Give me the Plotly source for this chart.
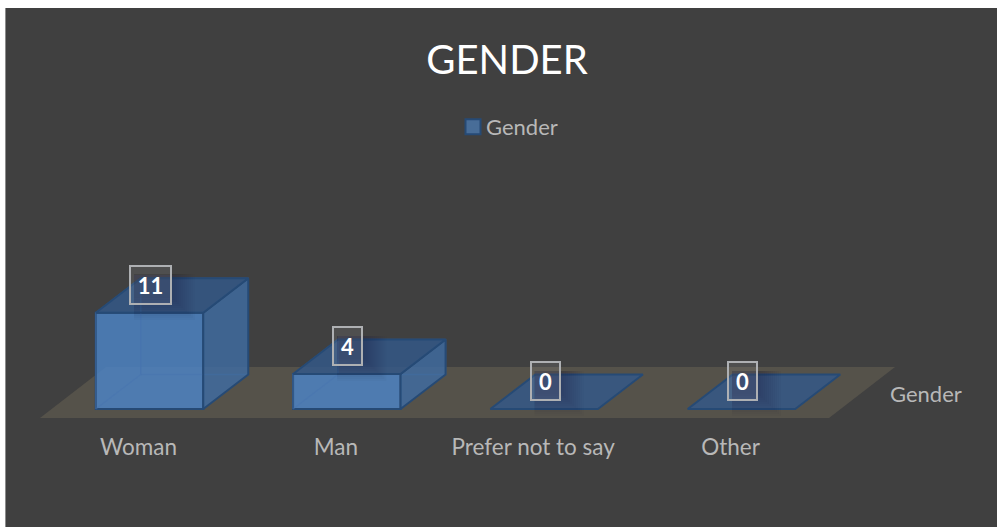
import plotly.graph_objects as go

categories = ["Woman", "Man", "Prefer not to say", "Other"]
values = [11, 4, 0, 0]
series_name = "Gender"
title_text = "GENDER"

W, H = 997, 527
ML, MT = 6, 8
PX_X = 197.33   # px per category
PX_Y = 8.75     # px per value
X0_PX, Y0_PX = 149.5, 409
BAR_W = 107.5 / PX_X
DX = 45 / PX_X
DY = 34.5 / PX_Y
FONT = "Lato"
EDGE = "#264a75"
TEXT = "#b8b8b8"

half = BAR_W / 2


def right(i, v):
    a, b = i + half, i + half + DX
    return [a, b, b, a], [0, DY, DY + v, v]


def top(i, v):
    a, b = i - half, i + half
    return [a, b, b + DX, a + DX], [v, v, v + DY, v + DY]


def back(i, v):
    a, b = i - half + DX, i + half + DX
    return [a, b, b, a], [DY, DY, DY + v, DY + v]


def left(i, v):
    a = i - half
    return [a, a + DX, a + DX, a], [0, DY, DY + v, v]


def collect(fn, only_solid=True):
    xs, ys = [], []
    for i, v in enumerate(values):
        if v > 0 or not only_solid:
            px, py = fn(i, v)
            xs += px + [px[0], None]
            ys += py + [py[0], None]
    return xs, ys


fig = go.Figure()
fig.add_trace(go.Bar(
    x=list(range(len(values))), y=values, width=BAR_W, name=series_name,
    marker=dict(color="rgba(76,134,201,0.8)", line=dict(color=EDGE, width=2)),
    hoverinfo="skip", showlegend=True,
))

for fn in (back, left):
    xs, ys = collect(fn)
    fig.add_trace(go.Scatter(x=xs, y=ys, mode="lines",
                             line=dict(color="rgba(70,115,175,0.45)", width=1.5),
                             hoverinfo="skip", showlegend=False))

xs, ys = collect(right)
fig.add_trace(go.Scatter(x=xs, y=ys, mode="lines", fill="toself", fillcolor="rgba(63,109,164,0.8)",
                         line=dict(color=EDGE, width=2), hoverinfo="skip", showlegend=False))

xs, ys = collect(top, only_solid=False)
fig.add_trace(go.Scatter(x=xs, y=ys, mode="lines", fill="toself", fillcolor="rgba(50,89,139,0.8)",
                         line=dict(color=EDGE, width=2), hoverinfo="skip", showlegend=False))

# floor
fl = -9 / PX_Y
bk = 42 / PX_Y
lx = (40 - X0_PX) / PX_X
rx = (829 - X0_PX) / PX_X
ox = 66 / PX_X
shapes = [dict(type="path", xref="x", yref="y", layer="below", line_width=0, fillcolor="#55524a",
               path=f"M{lx},{fl} L{rx},{fl} L{rx+ox},{bk} L{lx+ox},{bk} Z")]

# soft shadow around each data label
for i, v in enumerate(values):
    bw = 41 if len(str(v)) > 1 else 29
    cx = i + 1 / PX_X
    for k in range(12):
        g = k * 2
        shapes.append(dict(type="rect", xref="x", yref="y", layer="above", line_width=0,
                           fillcolor="rgba(28,34,48,0.03)",
                           x0=cx - (bw / 2 - 4) / PX_X,
                           x1=cx + (bw / 2 + 24 - g) / PX_X,
                           y0=v + (28 - 19 - 16 + g) / PX_Y,
                           y1=v + (28 + 10) / PX_Y))

annotations = []
for i, v in enumerate(values):
    wide = len(str(v)) > 1
    annotations.append(dict(
        x=i + 1 / PX_X, y=v, xref="x", yref="y", text=f"<b>{v}</b>", showarrow=False,
        yshift=28, width=39 if wide else 27, height=36, align="center", valign="middle",
        bgcolor="rgba(255,255,255,0.08)", bordercolor="#aeb0b3", borderwidth=2, borderpad=0,
        font=dict(family=FONT, size=22, color="#ffffff"),
    ))
annotations.append(dict(x=(925.5 - ML) / (W - ML), y=(H - 393) / (H - MT), xref="paper", yref="paper",
                        yanchor="middle", xanchor="center", text=series_name, showarrow=False,
                        font=dict(family=FONT, size=22, color=TEXT)))

fig.update_layout(
    width=W, height=H, margin=dict(l=ML, r=0, t=MT, b=0, autoexpand=False),
    paper_bgcolor="#ffffff", plot_bgcolor="#404040",
    title=dict(text=title_text, xref="container", yref="container", x=507 / W, y=1 - 60 / H,
               xanchor="center", yanchor="middle", font=dict(family=FONT, size=40, color="#ffffff")),
    legend=dict(x=(446 - ML) / (W - ML), y=(H - 127) / (H - MT), xanchor="left", yanchor="middle",
                orientation="h", bgcolor="rgba(0,0,0,0)", font=dict(family=FONT, size=22, color=TEXT)),
    xaxis=dict(range=[(ML - X0_PX) / PX_X, (W - X0_PX) / PX_X], tickvals=[i - 11 / PX_X for i in range(len(categories))],
               ticktext=categories, showgrid=False, zeroline=False, showline=False, ticks="",
               tickfont=dict(family=FONT, size=22.5, color=TEXT),
               anchor="free", position=(H - 431.5) / (H - MT), fixedrange=True),
    yaxis=dict(range=[(Y0_PX - H) / PX_Y, (Y0_PX - MT) / PX_Y], showgrid=False, zeroline=False,
               showticklabels=False, ticks="", showline=True, linecolor="#8c8c8c", linewidth=1, fixedrange=True),
    shapes=shapes, annotations=annotations, showlegend=True, hovermode=False, barmode="overlay",
)

fig.write_html("out.html", config={"displayModeBar": False},
               post_script=("document.body.style.margin='0';document.body.style.overflow='hidden';"
                            "document.querySelectorAll('.legend .legendpoints path').forEach(function(p){"
                            "p.setAttribute('transform','translate(27,0) scale(1.25)');"
                            "p.style.fill='#4a78ae';p.style.stroke='#264a75';p.style.strokeWidth='1.6px';});"))
